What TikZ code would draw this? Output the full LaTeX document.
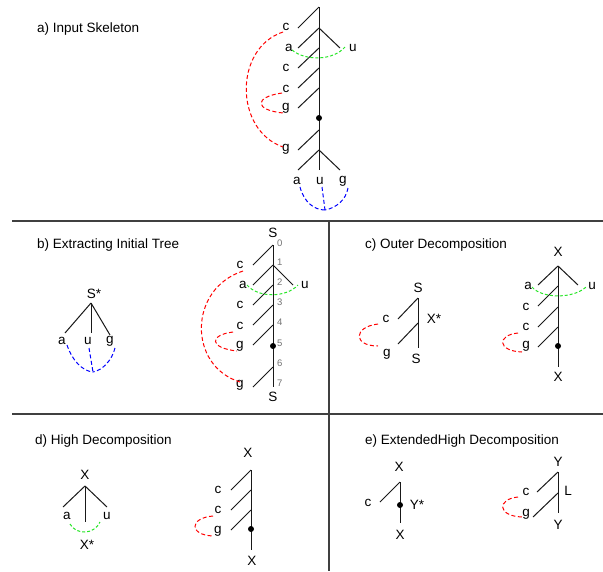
\documentclass[tikz,border=0pt]{standalone}
\usepackage{fontspec}
\setmainfont{Liberation Sans}
\begin{document}
\begin{tikzpicture}[x=1pt,y=-1pt,
  tree/.style={line width=1pt,black!90},
  frame/.style={line width=1.3pt,black!75},
  rdash/.style={red,line width=1pt,dash pattern=on 4pt off 2.5pt},
  gdash/.style={color={rgb,255:red,40;green,230;blue,40},line width=1pt,dash pattern=on 3pt off 2pt},
  bdash/.style={blue,line width=1pt,dash pattern=on 4pt off 2.5pt},
  lbl/.style={inner sep=0pt,font=\fontsize{13.5}{16}\selectfont},
  num/.style={inner sep=0pt,anchor=west,text=black!55,font=\fontsize{9.5}{11}\selectfont},
  ttl/.style={inner sep=0pt,anchor=west,font=\fontsize{13.5}{16}\selectfont},
  dotmark/.style={circle,fill=black,inner sep=0pt,minimum size=6pt}]
\useasboundingbox (0,0) rectangle (603,571);
\fill[white] (0,0) rectangle (603,571);

% frame
\coordinate (h1l) at (12,221); \coordinate (h1r) at (603,221);
\coordinate (h2l) at (12,414); \coordinate (h2r) at (603,414);
\coordinate (vt) at (329,221); \coordinate (vb) at (329,571);
\draw[frame] (h1l) -- (h1r);
\draw[frame] (h2l) -- (h2r);
\draw[frame] (vt) -- (vb);

% titles
\node[ttl] (ta) at (37,29) {a) Input Skeleton};
\node[ttl] (tb) at (37,245) {b) Extracting Initial Tree};
\node[ttl] (tc) at (365,245) {c) Outer Decomposition};
\node[ttl] (td) at (35,441) {d) High Decomposition};
\node[ttl] (te) at (365,441) {e) ExtendedHigh Decomposition};

% ---------------- a) ----------------
\coordinate (a0) at (319,7);  \coordinate (a0l) at (298,28);
\coordinate (a1) at (319,28); \coordinate (a1l) at (298,48); \coordinate (a1r) at (340,48);
\coordinate (a2) at (319,48); \coordinate (a2l) at (298,68);
\coordinate (a3) at (319,68); \coordinate (a3l) at (298,88);
\coordinate (a4) at (319,88); \coordinate (a4l) at (298,108);
\coordinate (a5) at (319,130); \coordinate (a5l) at (298,150);
\coordinate (a6) at (319,150);
\coordinate (a6l) at (298,170); \coordinate (a6m) at (319,170); \coordinate (a6r) at (340,170);
\draw[tree] (a0) -- (a6m);
\draw[tree] (a0) -- (a0l);
\draw[tree] (a1) -- (a1l); \draw[tree] (a1) -- (a1r);
\draw[tree] (a2) -- (a2l);
\draw[tree] (a3) -- (a3l);
\draw[tree] (a4) -- (a4l);
\draw[tree] (a5) -- (a5l);
\draw[tree] (a6) -- (a6l); \draw[tree] (a6) -- (a6r);
\node[dotmark] (adot) at (319,118) {};
\node[lbl] (ac1) at (286,27) {c};
\node[lbl] (aa1) at (289,48) {a};
\node[lbl] (au1) at (353,48) {u};
\node[lbl] (ac2) at (286,68) {c};
\node[lbl] (ac3) at (286,89) {c};
\node[lbl] (ag1) at (286,108) {g};
\node[lbl] (ag2) at (286,149) {g};
\node[lbl] (aa2) at (297,181) {a};
\node[lbl] (au2) at (320,181) {u};
\node[lbl] (ag3) at (343,181) {g};
\coordinate (abl) at (325,210);
\draw[rdash] (283,32) .. controls (234,48) and (234,130) .. (283,147);
\draw[rdash] (282,93) .. controls (254,97) and (254,110) .. (283,113);
\draw[gdash] (292,50) .. controls (305,61) and (333,61) .. (345,47);
\draw[bdash] (300,187) .. controls (304,202) and (314,210) .. (abl);
\draw[bdash] (348,188) .. controls (346,200) and (336,208) .. (abl);
\draw[bdash] (322,187) -- (abl);

% ---------------- b) ----------------
\node[lbl] (bS1) at (94,294) {S*};
\coordinate (br) at (91,303);
\coordinate (brl) at (65,333); \coordinate (brm) at (91,333); \coordinate (brr) at (110,335);
\draw[tree] (br) -- (brl); \draw[tree] (br) -- (brm); \draw[tree] (br) -- (brr);
\node[lbl] (ba1) at (62,341) {a};
\node[lbl] (bu1) at (88,341) {u};
\node[lbl] (bg1) at (110,341) {g};
\coordinate (bbl) at (93,372);
\draw[bdash] (67,345) .. controls (72,360) and (82,371) .. (bbl);
\draw[bdash] (115,348) .. controls (112,360) and (103,370) .. (bbl);
\draw[bdash] (89,348) -- (bbl);

\node[lbl] (bS2) at (273,233) {S};
\node[lbl] (bS3) at (273,397) {S};
\coordinate (b0) at (273,245); \coordinate (b0l) at (253,265);
\coordinate (b1) at (273,265); \coordinate (b1l) at (253,285); \coordinate (b1r) at (293,285);
\coordinate (b2) at (273,285); \coordinate (b2l) at (253,305);
\coordinate (b3) at (273,305); \coordinate (b3l) at (253,325);
\coordinate (b4) at (273,325); \coordinate (b4l) at (253,345);
\coordinate (b6) at (273,367); \coordinate (b6l) at (253,387);
\coordinate (bend) at (273,387);
\draw[tree] (b0) -- (bend);
\draw[tree] (b0) -- (b0l);
\draw[tree] (b1) -- (b1l); \draw[tree] (b1) -- (b1r);
\draw[tree] (b2) -- (b2l);
\draw[tree] (b3) -- (b3l);
\draw[tree] (b4) -- (b4l);
\draw[tree] (b6) -- (b6l);
\node[dotmark] (bdot) at (273,346) {};
\node[num] (n0) at (277,243) {0};
\node[num] (n1) at (277,262) {1};
\node[num] (n2) at (277,282) {2};
\node[num] (n3) at (277,302) {3};
\node[num] (n4) at (277,322) {4};
\node[num] (n5) at (277,343) {5};
\node[num] (n6) at (277,363) {6};
\node[num] (n7) at (277,383) {7};
\node[lbl] (bc1) at (240,265) {c};
\node[lbl] (ba2) at (243,285) {a};
\node[lbl] (bu2) at (305,285) {u};
\node[lbl] (bc2) at (240,305) {c};
\node[lbl] (bc3) at (240,326) {c};
\node[lbl] (bg2) at (240,346) {g};
\node[lbl] (bg3) at (240,385) {g};
\draw[rdash] (243,271) .. controls (188,289) and (188,366) .. (240,382);
\draw[rdash] (233,332) .. controls (209,335) and (209,348) .. (237,351);
\draw[gdash] (247,285) .. controls (258,298) and (286,298) .. (298,285);

% ---------------- c) ----------------
\node[lbl] (cS1) at (418,288) {S};
\coordinate (c0) at (418,298); \coordinate (c0l) at (398,319);
\coordinate (c1) at (418,323); \coordinate (c1l) at (398,344);
\coordinate (cend) at (418,348);
\draw[tree] (c0) -- (cend);
\draw[tree] (c0) -- (c0l);
\draw[tree] (c1) -- (c1l);
\node[lbl] (cc1) at (386,319) {c};
\node[lbl] (cX1) at (434,319) {X*};
\node[lbl] (cg1) at (387,354) {g};
\node[lbl] (cS2) at (416,359) {S};
\draw[rdash] (378,324) .. controls (353,327) and (353,346) .. (378,346);

\node[lbl] (cX2) at (558,252) {X};
\coordinate (d0) at (558,266); \coordinate (d0l) at (538,285); \coordinate (d0r) at (578,285);
\coordinate (d1) at (558,286); \coordinate (d1l) at (538,306);
\coordinate (d2) at (558,307); \coordinate (d2l) at (538,327);
\coordinate (d3) at (558,327); \coordinate (d3l) at (538,347);
\coordinate (dend) at (558,367);
\draw[tree] (d0) -- (dend);
\draw[tree] (d0) -- (d0l); \draw[tree] (d0) -- (d0r);
\draw[tree] (d1) -- (d1l);
\draw[tree] (d2) -- (d2l);
\draw[tree] (d3) -- (d3l);
\node[dotmark] (cdot) at (558,346) {};
\node[lbl] (cX3) at (558,377) {X};
\node[lbl] (ca1) at (528,286) {a};
\node[lbl] (cu1) at (592,286) {u};
\node[lbl] (cc2) at (526,307) {c};
\node[lbl] (cc3) at (526,327) {c};
\node[lbl] (cg2) at (526,346) {g};
\draw[gdash] (532,287) .. controls (542,299) and (575,299) .. (587,286);
\draw[rdash] (518,333) .. controls (497,335) and (497,351) .. (522,352);

% ---------------- d) ----------------
\node[lbl] (dX1) at (85,475) {X};
\coordinate (e0) at (85,486);
\coordinate (e0l) at (63,507); \coordinate (e0m) at (85,522); \coordinate (e0r) at (107,507);
\draw[tree] (e0) -- (e0l); \draw[tree] (e0) -- (e0m); \draw[tree] (e0) -- (e0r);
\node[lbl] (da1) at (67,516) {a};
\node[lbl] (du1) at (107,516) {u};
\node[lbl] (dX2) at (87,545) {X*};
\draw[gdash] (70,524) .. controls (76,535) and (94,535) .. (100,522);

\node[lbl] (dX3) at (248,453) {X};
\coordinate (f0) at (251,470); \coordinate (f0l) at (231,490);
\coordinate (f1) at (251,490); \coordinate (f1l) at (231,510);
\coordinate (f2) at (251,510); \coordinate (f2l) at (231,530);
\coordinate (fend) at (251,550);
\draw[tree] (f0) -- (fend);
\draw[tree] (f0) -- (f0l);
\draw[tree] (f1) -- (f1l);
\draw[tree] (f2) -- (f2l);
\node[dotmark] (ddot) at (251,529) {};
\node[lbl] (dX4) at (252,561) {X};
\node[lbl] (dc1) at (218,490) {c};
\node[lbl] (dc2) at (218,510) {c};
\node[lbl] (dg1) at (218,531) {g};
\draw[rdash] (213,516) .. controls (189,518) and (189,535) .. (213,536);

% ---------------- e) ----------------
\node[lbl] (eX1) at (399,467) {X};
\coordinate (g0) at (400,482); \coordinate (g0l) at (380,502);
\coordinate (gend) at (400,523);
\draw[tree] (g0) -- (gend);
\draw[tree] (g0) -- (g0l);
\node[dotmark] (edot) at (400,505) {};
\node[lbl] (eX2) at (400,535) {X};
\node[lbl] (ec1) at (368,503) {c};
\node[lbl] (eY1) at (417,505) {Y*};

\node[lbl] (eY2) at (558,462) {Y};
\coordinate (h0) at (558,472); \coordinate (h0l) at (537,492);
\coordinate (hm) at (558,493); \coordinate (hml) at (533,517);
\coordinate (hend) at (558,513);
\draw[tree] (h0) -- (hend);
\draw[tree] (h0) -- (h0l);
\draw[tree] (hm) -- (hml);
\node[lbl] (eL) at (568,491) {L};
\node[lbl] (ec2) at (526,492) {c};
\node[lbl] (eg1) at (526,514) {g};
\node[lbl] (eY3) at (558,525) {Y};
\draw[rdash] (518,497) .. controls (497,499) and (497,516) .. (522,517);
\end{tikzpicture}
\end{document}
